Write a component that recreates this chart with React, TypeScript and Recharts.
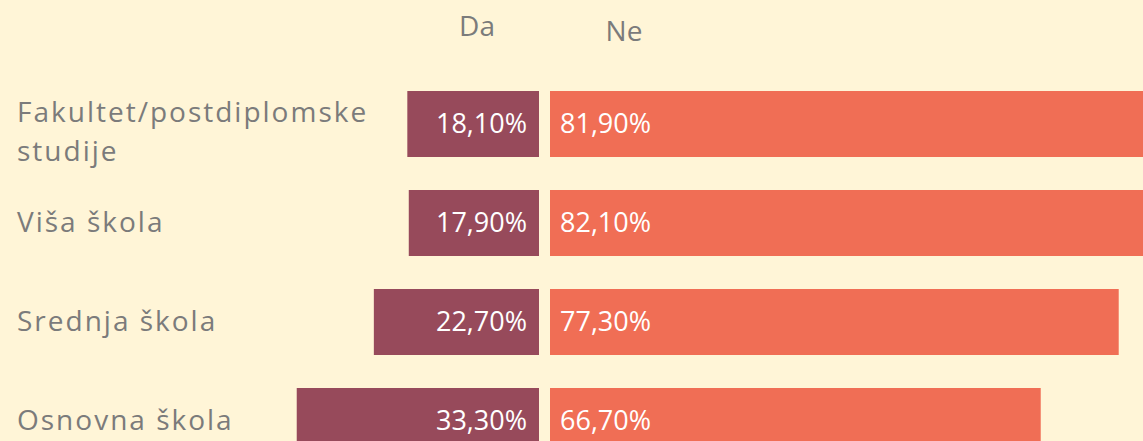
import React from "react"
import { BarChart, Bar, XAxis, YAxis, LabelList } from "recharts"

const categories = ["Fakultet/postdiplomske studije", "Viša škola", "Srednja škola", "Osnovna škola"]
const daValues = [18.1, 17.9, 22.7, 33.3]
const neValues = [81.9, 82.1, 77.3, 66.7]
const seriesNames = ["Da", "Ne"]

const data = categories.map((name, i) => ({ name, da: daValues[i], ne: neValues[i] }))

const BG = "#FFF5D7"
const DA_COLOR = "#974A5B"
const NE_COLOR = "#F06E55"
const TEXT_GRAY = "#7B7B7B"
const FONT = "'Open Sans', sans-serif"

const fmt = (v: any) => Number(v).toFixed(2).replace(".", ",") + "%"

// wrap the long category name onto two lines
const wrap = (s: string, max = 22) => {
 const lines: string[] = []
 let cur = ""
 for (const w of s.split(" ")) {
  if (cur && (cur + " " + w).length > max) {
   lines.push(cur)
   cur = w
  } else {
   cur = cur ? cur + " " + w : w
  }
 }
 if (cur) lines.push(cur)
 return lines
}

const CategoryTick = (props: any) => {
 const { y, payload } = props
 const lines = wrap(String(payload.value))
 const start = lines.length > 1 ? -11 : 0
 return (
  <text x={17} y={y} textAnchor="start" fill={TEXT_GRAY} fontSize={28} letterSpacing={2} fontFamily={FONT}>
   {lines.map((l, i) => (
    <tspan key={i} x={17} y={y + start + i * 39} dy="0.35em">
     {l}
    </tspan>
   ))}
  </text>
 )
}

// bar value label, right or left aligned inside the bar regardless of axis direction
const valueLabel = (align: "left" | "right") => (props: any) => {
 const { x, y, width, height, value } = props
 const left = Math.min(x, x + width)
 const right = Math.max(x, x + width)
 const tx = align === "right" ? right - 12 : left + 10
 return (
  <text
   x={tx}
   y={y + height / 2}
   dy="0.35em"
   textAnchor={align === "right" ? "end" : "start"}
   fill="#FFFFFF"
   fontSize={27}
   fontWeight={500}
   fontFamily={FONT}>
   {fmt(value)}
  </text>
 )
}

export default function App() {
 return (
  <div
   style={{
    position: "absolute",
    left: 0,
    top: 0,
    width: 1143,
    height: 441,
    background: BG,
    overflow: "hidden",
    fontFamily: FONT,
   }}>
   <div style={{ position: "absolute", left: 477, top: 25, transform: "translate(-50%, -50%)", color: TEXT_GRAY, fontSize: 28 }}>
    {seriesNames[0]}
   </div>
   <div style={{ position: "absolute", left: 624, top: 30, transform: "translate(-50%, -50%)", color: TEXT_GRAY, fontSize: 28 }}>
    {seriesNames[1]}
   </div>

   <div style={{ position: "absolute", left: 0, top: 0 }}>
    <BarChart width={540} height={470} data={data} layout="vertical" margin={{ top: 74, right: 1, left: 0, bottom: 0 }}>
     <XAxis type="number" domain={[0, 35.6]} reversed hide allowDataOverflow />
     <YAxis type="category" dataKey="name" width={280} axisLine={false} tickLine={false} tick={<CategoryTick />} />
     <Bar dataKey="da" fill={DA_COLOR} barSize={66} isAnimationActive={false}>
      <LabelList dataKey="da" content={valueLabel("right")} />
     </Bar>
    </BarChart>
   </div>

   <div style={{ position: "absolute", left: 550, top: 0 }}>
    <BarChart width={593} height={470} data={data} layout="vertical" margin={{ top: 74, right: 0, left: 0, bottom: 0 }}>
     <XAxis type="number" domain={[0, 80.6]} hide allowDataOverflow />
     <YAxis type="category" dataKey="name" hide />
     <Bar dataKey="ne" fill={NE_COLOR} barSize={66} isAnimationActive={false}>
      <LabelList dataKey="ne" content={valueLabel("left")} />
     </Bar>
    </BarChart>
   </div>
  </div>
 )
}
